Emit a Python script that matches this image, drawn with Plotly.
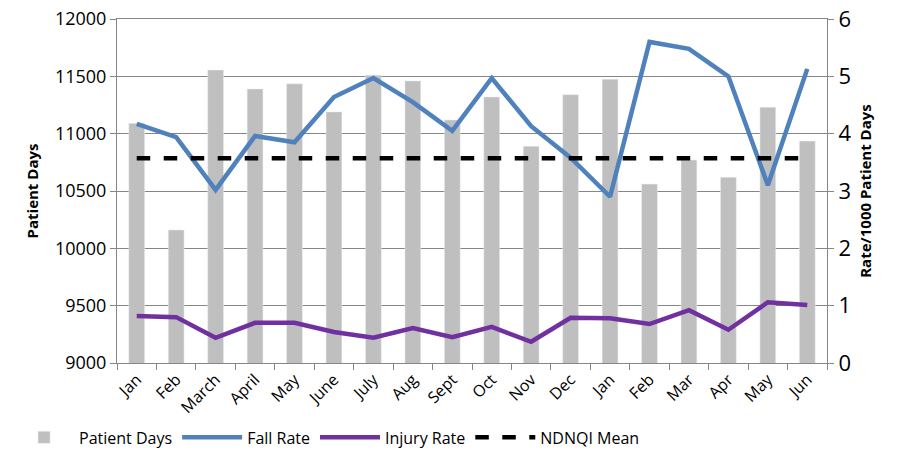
import plotly.graph_objects as go

months = ["Jan", "Feb", "March", "April", "May", "June", "July", "Aug", "Sept",
          "Oct", "Nov", "Dec", "Jan", "Feb", "Mar", "Apr", "May", "Jun"]
patient_days = [11090, 10160, 11555, 11390, 11435, 11190, 11510, 11460, 11120,
                11320, 10890, 11340, 11475, 10560, 10770, 10620, 11230, 10935]
fall_rate = [4.17, 3.94, 3.02, 3.96, 3.85, 4.64, 4.97, 4.55, 4.05,
             4.97, 4.13, 3.58, 2.9, 5.6, 5.48, 5.0, 3.1, 5.13]
injury_rate = [0.82, 0.80, 0.44, 0.70, 0.70, 0.54, 0.44, 0.61, 0.45,
               0.63, 0.37, 0.79, 0.78, 0.68, 0.92, 0.58, 1.06, 1.01]
ndnqi_mean = [3.57] * len(months)

x = list(range(len(months)))
font = "Open Sans, Liberation Sans, sans-serif"

fig = go.Figure()
fig.add_trace(go.Bar(x=x, y=patient_days, name="Patient Days", marker_color="#BFBFBF",
                     width=0.4, base=0, yaxis="y"))
fig.add_trace(go.Scatter(x=x, y=fall_rate, name="Fall Rate", mode="lines",
                         line=dict(color="#4F81BD", width=4.5), yaxis="y2"))
fig.add_trace(go.Scatter(x=x, y=injury_rate, name="Injury Rate", mode="lines",
                         line=dict(color="#7030A0", width=4.5), yaxis="y2"))
fig.add_trace(go.Scatter(x=x, y=ndnqi_mean, name="NDNQI Mean", mode="lines",
                         line=dict(color="black", width=4.5, dash="dash"), yaxis="y2"))

fig.update_layout(
    width=907, height=451,
    margin=dict(l=117, r=80, t=19, b=88, autoexpand=False),
    plot_bgcolor="white", paper_bgcolor="white",
    font=dict(family=font, size=16, color="black"),
    showlegend=True,
    legend=dict(orientation="h", xref="container", yref="container",
                x=0.01, y=0.03, xanchor="left", yanchor="middle",
                font=dict(size=16), traceorder="normal", itemwidth=60,
                bgcolor="rgba(0,0,0,0)"),
    xaxis=dict(range=[-0.5, 17.5], tickmode="array", tickvals=x, ticktext=months,
               tickangle=-45, ticks="", showline=True, mirror=True,
               linecolor="#868686", showgrid=False,
               tickfont=dict(size=16), automargin=False,
               minor=dict(ticks="outside", tickmode="array",
                          tickvals=[i - 0.5 for i in range(len(months) + 1)],
                          ticklen=6, tickcolor="#868686", showgrid=False)),
    yaxis=dict(range=[9000, 12000], tickmode="array",
               tickvals=[9000, 9500, 10000, 10500, 11000, 11500, 12000],
               tickformat="d", showgrid=True, ticklabeloverflow="allow",
               gridcolor="#868686", gridwidth=1, showline=True, linecolor="#868686",
               ticks="outside", ticklen=6, tickcolor="#868686", automargin=False,
               title=dict(text="<b>Patient Days</b>", font=dict(size=15), standoff=12),
               tickfont=dict(size=18), zeroline=False),
    yaxis2=dict(range=[0, 6], tickmode="array", tickvals=[0, 1, 2, 3, 4, 5, 6],
                overlaying="y", side="right", showgrid=False,
                ticklabeloverflow="allow",
                showline=True, linecolor="#868686", ticks="outside", ticklen=6,
                tickcolor="#868686", tickfont=dict(size=22), automargin=False,
                title=dict(text="<b>Rate/1000 Patient Days</b>", font=dict(size=15),
                           standoff=10),
                zeroline=False),
)

fig.write_html(
    "out.html",
    config={"displayModeBar": False},
    post_script="document.body.style.margin='0';document.body.style.padding='0';",
)
